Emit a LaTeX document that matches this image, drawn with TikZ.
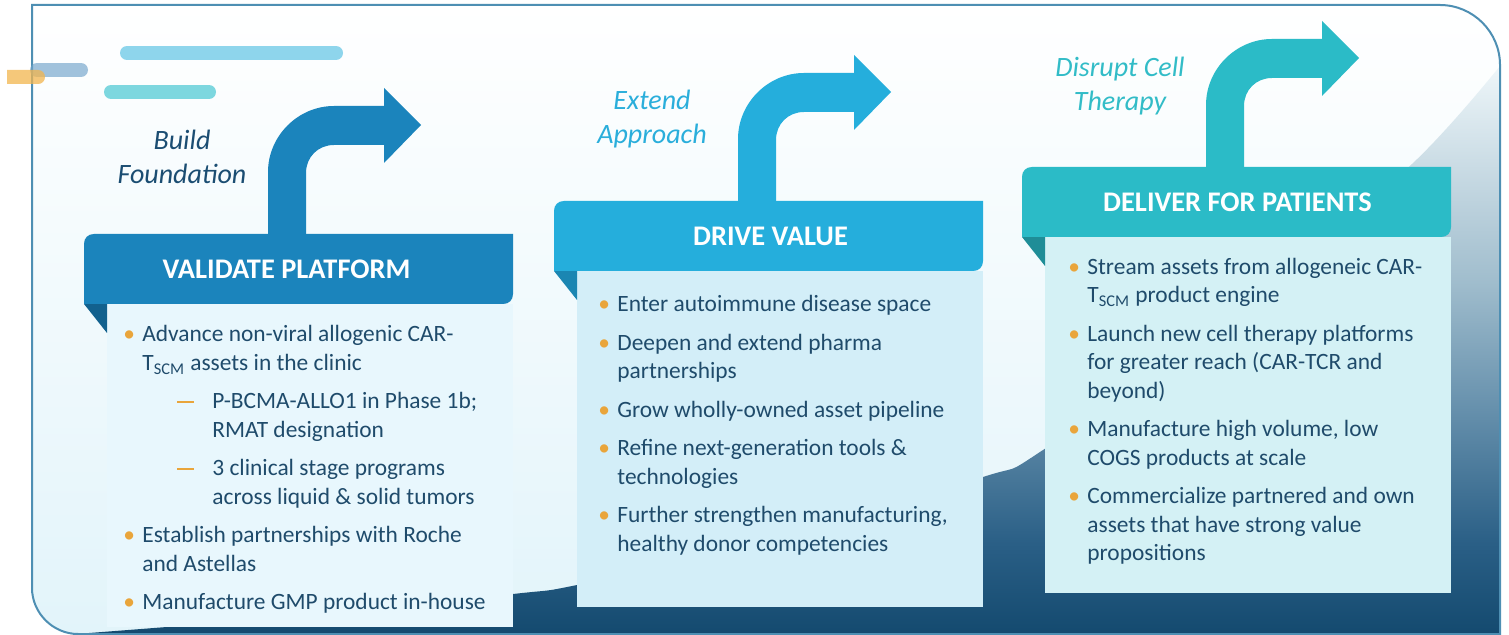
\documentclass[tikz,border=0pt]{standalone}
\usepackage{fontspec}
\setmainfont{Carlito}
\usepackage{tikz}

\definecolor{framefill}{HTML}{E2F4FA}
\definecolor{frameline}{HTML}{4E8FB3}
\definecolor{lightbar}{HTML}{8ED5EC}
\definecolor{tealbar}{HTML}{7DD7DF}
\definecolor{greybar}{HTML}{6FA3CA}
\definecolor{orangebar}{HTML}{F2B54E}
\definecolor{bodyone}{HTML}{E8F7FD}
\definecolor{bodytwo}{HTML}{D3EEF8}
\definecolor{bodythree}{HTML}{D4F1F5}
\definecolor{foldone}{HTML}{12618E}
\definecolor{foldtwo}{HTML}{1B86B2}
\definecolor{foldthree}{HTML}{1F8D97}
\definecolor{headone}{HTML}{1B84BC}
\definecolor{headtwo}{HTML}{25AEDC}
\definecolor{headthree}{HTML}{2BBBC7}
\definecolor{navytext}{HTML}{1B4D72}
\definecolor{listnavy}{HTML}{1F4B6B}
\definecolor{extendblue}{HTML}{2AAEDB}
\definecolor{disruptteal}{HTML}{32BCC7}
\definecolor{dotorange}{HTML}{E9A53B}
\definecolor{wedgeA}{HTML}{144A6F}
\definecolor{wedgeB}{HTML}{2A5F86}
\definecolor{wedgeC}{HTML}{6791AD}
\definecolor{wedgeD}{HTML}{A0BDCD}
\definecolor{wedgeE}{HTML}{EEF6F9}

\pgfdeclareverticalshading{wedgeshade}{100bp}{color(0bp)=(wedgeA); color(25bp)=(wedgeA); color(33bp)=(wedgeB); color(45bp)=(wedgeC); color(56bp)=(wedgeD); color(75bp)=(wedgeE); color(100bp)=(wedgeE)}

\newcommand{\dotitem}{\makebox[9.5pt][l]{\textcolor{dotorange}{\textbullet}}}
\newcommand{\dashitem}{\hspace{9.5pt}\makebox[35pt][l]{\hspace{17.5pt}\textcolor{dotorange}{\rule[3.2pt]{8.5pt}{0.9pt}}}}
\newcommand{\goon}{\hspace{9.5pt}}
\newcommand{\subgoon}{\hspace{44.5pt}}

\begin{document}
\begin{tikzpicture}[x=0.5pt,y=-0.5pt,
  bodytext/.style={anchor=base west,inner sep=0pt,text=listnavy,font=\fontsize{11.7}{14.25}\selectfont},
  phase/.style={inner sep=0pt,font=\fontsize{14}{17}\selectfont\itshape,align=center},
  headtext/.style={inner sep=0pt,text=white,font=\fontsize{14.2}{17}\selectfont\bfseries},
  bar/.style={line width=7pt,line cap=round}]

\useasboundingbox (0,0) rectangle (1509,635);

% frame and rising background
\shade[top color=white,bottom color=framefill] (32,5) -- (1440,5) .. controls (1473,5) and (1500,32) .. (1500,65) -- (1500,634) -- (78,634) .. controls (53,634) and (32,613) .. (32,588) -- cycle;
\shade[shading=wedgeshade] plot[smooth,tension=0.55] coordinates {(76,634) (300,616) (513,594) (577,585) (760,544) (980,478) (1043,450) (1250,300) (1412,164) (1500,66)} -- (1500,634) -- cycle;
\draw[frameline,line width=1pt] (32,5) -- (1440,5) .. controls (1473,5) and (1500,32) .. (1500,65) -- (1500,634) -- (78,634) .. controls (53,634) and (32,613) .. (32,588) -- cycle;

% bars
\draw[bar,lightbar] (127,53) -- (336,53);
\draw[bar,tealbar] (111,92) -- (209,92);
\draw[bar,greybar,opacity=.65] (37,70) -- (81,70);
\fill[orangebar,opacity=.75] (7,70) -- (38,70) .. controls (42,70) and (45,73) .. (45,77) .. controls (45,81) and (42,84) .. (38,84) -- (7,84) -- cycle;

% stages
\foreach \sx/\sy/\s/\bot/\tx/\title in {0/0/one/521/-12/VALIDATE PLATFORM, 470/-33/two/534/2/DRIVE VALUE, 938/-67/three/554/1/DELIVER FOR PATIENTS}{
\begin{scope}[shift={(268+\sx,106+\sy)}]
  \fill[fill=body\s] (-161,198) rectangle (245,\bot);
  \fill[fill=fold\s] (-184,198) -- (-161,198) -- (-161,227) -- cycle;
  \fill[fill=head\s] (-184,138) .. controls (-184,132) and (-180,128) .. (-174,128) -- (245,128) -- (245,188) .. controls (245,194) and (241,198) .. (235,198) -- (-184,198) -- cycle;
  \fill[fill=head\s] (0,128) -- (0,66) .. controls (0,30) and (30,0) .. (66,0) -- (116,0) -- (116,-18) -- (153,19) -- (116,57) -- (116,39) -- (66,39) .. controls (50,39) and (38,51) .. (38,67) -- (38,128) -- cycle;
  \node[headtext] (title\s) at (30.5+\tx,163) {\title};
\end{scope}}

\node[phase,text=navytext] (build) at (182,157) {Build\\Foundation};
\node[phase,text=extendblue] (extend) at (652,119) {Extend\\Approach};
\node[phase,text=disruptteal] (disrupt) at (1120,86) {Disrupt Cell\\Therapy};

\node[bodytext] (listone) at (123,342) {\begin{tabular}[t]{@{}l@{}}
\dotitem Advance non-viral allogenic CAR-\\
\goon T\textsubscript{SCM} assets in the clinic\\[5pt]
\dashitem P-BCMA-ALLO1 in Phase 1b;\\
\subgoon RMAT designation\\[5pt]
\dashitem 3 clinical stage programs\\
\subgoon across liquid \& solid tumors\\[5pt]
\dotitem Establish partnerships with Roche\\
\goon and Astellas\\[5pt]
\dotitem Manufacture GMP product in-house
\end{tabular}};

\node[bodytext] (listtwo) at (598,312) {\begin{tabular}[t]{@{}l@{}}
\dotitem Enter autoimmune disease space\\[5pt]
\dotitem Deepen and extend pharma\\
\goon partnerships\\[5pt]
\dotitem Grow wholly-owned asset pipeline\\[5pt]
\dotitem Refine next-generation tools \&\\
\goon technologies\\[5pt]
\dotitem Further strengthen manufacturing,\\
\goon healthy donor competencies
\end{tabular}};

\node[bodytext] (listthree) at (1068,274.5) {\begin{tabular}[t]{@{}l@{}}
\dotitem Stream assets from allogeneic CAR-\\
\goon T\textsubscript{SCM} product engine\\[5pt]
\dotitem Launch new cell therapy platforms\\
\goon for greater reach (CAR-TCR and\\
\goon beyond)\\[5pt]
\dotitem Manufacture high volume, low\\
\goon COGS products at scale\\[5pt]
\dotitem Commercialize partnered and own\\
\goon assets that have strong value\\
\goon propositions
\end{tabular}};
\end{tikzpicture}
\end{document}
